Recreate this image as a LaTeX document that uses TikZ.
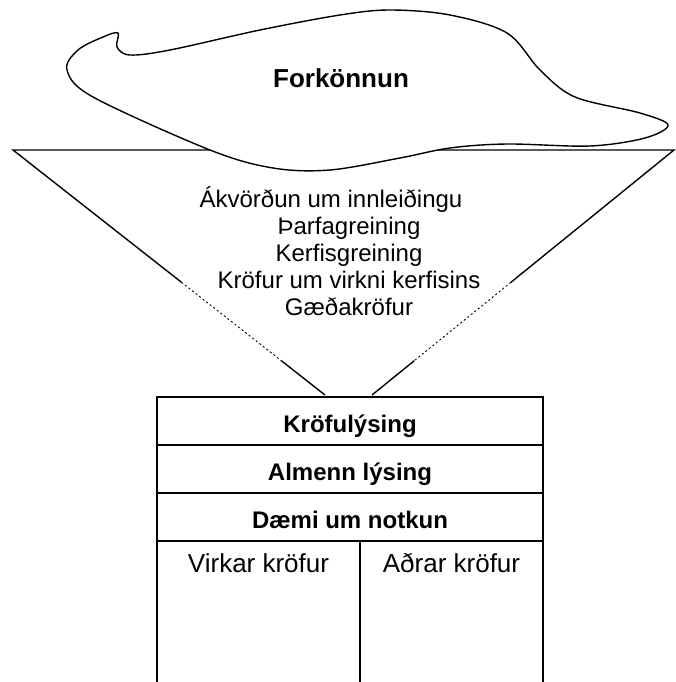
\documentclass[tikz,border=0pt]{standalone}
\usepackage{fontspec}
\setmainfont{Liberation Sans}
\usetikzlibrary{calc}

\begin{document}
\begin{tikzpicture}[x=1pt,y=-1pt,
    funnelline/.style={line width=1.4pt},
    hiddenline/.style={line width=0.9pt, dash pattern=on 2pt off 2.5pt},
    boxline/.style={line width=1.8pt},
    steptext/.style={anchor=base, inner sep=0pt, font=\fontsize{24}{27}\selectfont},
    coltext/.style={anchor=base, inner sep=0pt, font=\fontsize{26}{30}\selectfont},
    headtext/.style={anchor=base, inner sep=0pt, font=\fontsize{24}{27}\selectfont\bfseries}]
	%%%%% START %%%%%
	\useasboundingbox (0,0) rectangle (676,682);

	% funnel
	\coordinate (tl) at (13,150);
	\coordinate (tr) at (674,150);
	\coordinate (bl) at (325,395);
	\coordinate (br) at (372,395);
	\draw[funnelline] ($(tl)!0.54!(bl)$) -- (tl) -- (tr) -- ($(tr)!0.54!(br)$);
	\draw[hiddenline] ($(tl)!0.54!(bl)$) -- ($(tl)!0.86!(bl)$);
	\draw[hiddenline] ($(tr)!0.54!(br)$) -- ($(tr)!0.86!(br)$);
	\draw[funnelline] ($(tl)!0.86!(bl)$) -- (bl);
	\draw[funnelline] ($(tr)!0.86!(br)$) -- (br);

	% cloud
	\draw[funnelline, fill=white] plot[smooth cycle, tension=0.55] coordinates {
		(118,33) (117,47) (130,55) (170,50) (260,30) (340,15) (390,10) (450,15)
		(507,33) (540,70) (575,97) (640,113) (668,125) (645,138) (590,146)
		(507,144) (450,148) (400,158) (330,170) (273,168) (210,150) (93,97)
		(67,70) (78,50) (103,37)};
	\node[headtext, font=\fontsize{26}{30}\selectfont\bfseries] (forkonnun) at (341,88) {Forkönnun};

	% funnel texts
	\node[steptext] (akvordun) at (331,207) {Ákvörðun um innleiðingu};
	\node[steptext] (thorf) at (349,234) {Þarfagreining};
	\node[steptext] (kerfis) at (349,261) {Kerfisgreining};
	\node[steptext] (virkni) at (349,288) {Kröfur um virkni kerfisins};
	\node[steptext] (gaedi) at (349,315) {Gæðakröfur};

	% table
	\draw[boxline] (157,682) -- (157,397) -- (543,397) -- (543,682);
	\foreach \y in {445,493,541}
		\draw[boxline] (157,\y) -- (543,\y);
	\draw[boxline] (360,541) -- (360,682);

	\node[headtext] (krofulysing) at (350,432) {Kröfulýsing};
	\node[headtext] (almenn) at (350,480) {Almenn lýsing};
	\node[headtext] (daemi) at (350,528) {Dæmi um notkun};
	\node[coltext] (virkar) at (258.5,572) {Virkar kröfur};
	\node[coltext] (adrar) at (451.5,572) {Aðrar kröfur};
	%%%%% END %%%%%
\end{tikzpicture}
\end{document}
